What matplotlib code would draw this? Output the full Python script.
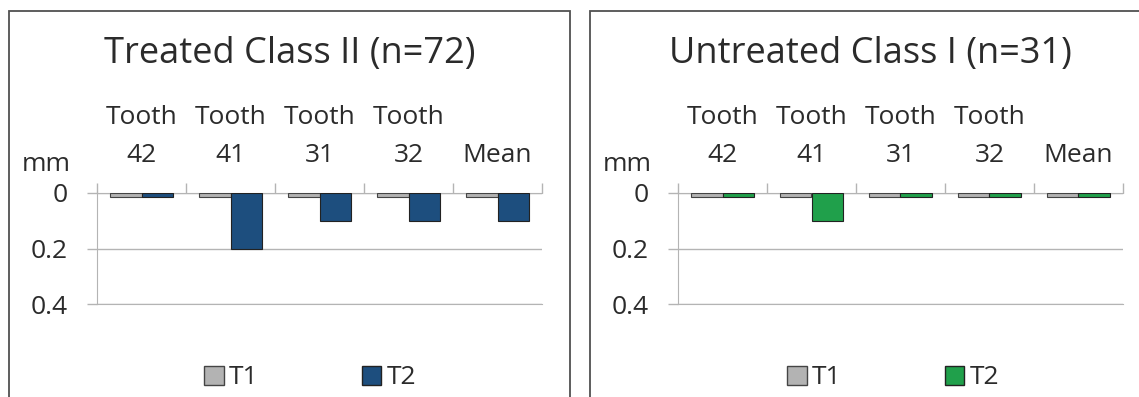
import matplotlib
matplotlib.use('Agg')
import matplotlib.pyplot as plt
import numpy as np
from matplotlib.patches import Rectangle, Patch

plt.rcParams['font.family'] = ['Open Sans', 'DejaVu Sans']

# データ
categories = ['Tooth\n42', 'Tooth\n41', 'Tooth\n31', 'Tooth\n32', 'Mean']
treated_t1 = [0.015, 0.015, 0.015, 0.015, 0.015]
treated_t2 = [0.015, 0.2, 0.1, 0.1, 0.1]
untreated_t1 = [0.015, 0.015, 0.015, 0.015, 0.015]
untreated_t2 = [0.015, 0.1, 0.015, 0.015, 0.015]
yticks = [0, 0.2, 0.4]
ytick_labels = ['0', '0.2', '0.4']

W, H = 1139, 397
fig = plt.figure(figsize=(W / 100, H / 100), dpi=100)

GRID = '#b4b4b4'
TEXT = '#2b2b2b'
T1_COLOR = '#b3b3b3'
FS = 19


def px(x, y):
    return x / W, 1 - y / H


def draw_panel(left, right, frame_l, frame_r, title, t1, t2, t2_color, legend_x):
    # 枠線
    fig.patches.append(Rectangle(px(frame_l, 420), (frame_r - frame_l) / W, 409 / H,
                                 transform=fig.transFigure, fill=False,
                                 edgecolor='#505050', linewidth=1.3))
    x0, y0 = px(left, 304)
    ax = fig.add_axes([x0, y0, (right - left) / W, 111 / H])
    n = len(categories)
    xs = np.arange(n)
    w = 0.35
    ax.bar(xs - w / 2, t1, w, color=T1_COLOR, edgecolor='#444444', linewidth=0.8, zorder=3)
    ax.bar(xs + w / 2, t2, w, color=t2_color, edgecolor='#222222', linewidth=0.8, zorder=3)
    ax.set_xlim(-0.5, n - 0.5)
    ax.set_ylim(0.4, 0)

    # 軸設定
    ax.xaxis.tick_top()
    ax.set_xticks(np.arange(n + 1) - 0.5)
    ax.set_xticklabels([])
    ax.set_xticks(xs, minor=True)
    ax.set_xticklabels(categories, minor=True, fontsize=FS, color=TEXT, linespacing=1.7)
    ax.tick_params(axis='x', which='major', direction='out', length=7, color=GRID, width=1)
    ax.tick_params(axis='x', which='minor', length=0, pad=18)
    ax.set_yticks(yticks)
    ax.set_yticklabels(ytick_labels, fontsize=FS, color=TEXT)
    ax.tick_params(axis='y', direction='out', length=7, color=GRID, width=1, pad=14)
    ax.yaxis.grid(True, color=GRID, linewidth=1)
    ax.spines['right'].set_visible(False)
    for s in ['left', 'top', 'bottom']:
        ax.spines[s].set_color(GRID)
    ax.set_axisbelow(True)

    fig.text(*px(left - 51, 171), 'mm', fontsize=FS, color=TEXT, ha='center', va='baseline')
    fig.text(*px((left + right) / 2 - 30, 63), title, fontsize=26, color=TEXT,
             ha='center', va='baseline')

    handles = [Patch(facecolor=T1_COLOR, edgecolor='#444444', label='T1'),
               Patch(facecolor=t2_color, edgecolor='#222222', label='T2')]
    fig.legend(handles=handles, loc='center left', bbox_to_anchor=px(legend_x, 378), ncol=2,
               frameon=False, fontsize=FS, handlelength=0.75, handleheight=0.75,
               handletextpad=0.2, columnspacing=3.9, borderpad=0, borderaxespad=0,
               labelcolor=TEXT)
    return ax


draw_panel(97, 542, 9, 570, 'Treated Class II (n=72)', treated_t1, treated_t2, '#1d4e7e', 204)
draw_panel(678, 1123, 590, 1160, 'Untreated Class I (n=31)', untreated_t1, untreated_t2,
           '#20a04b', 787)

fig.savefig('out.png', dpi=100)
